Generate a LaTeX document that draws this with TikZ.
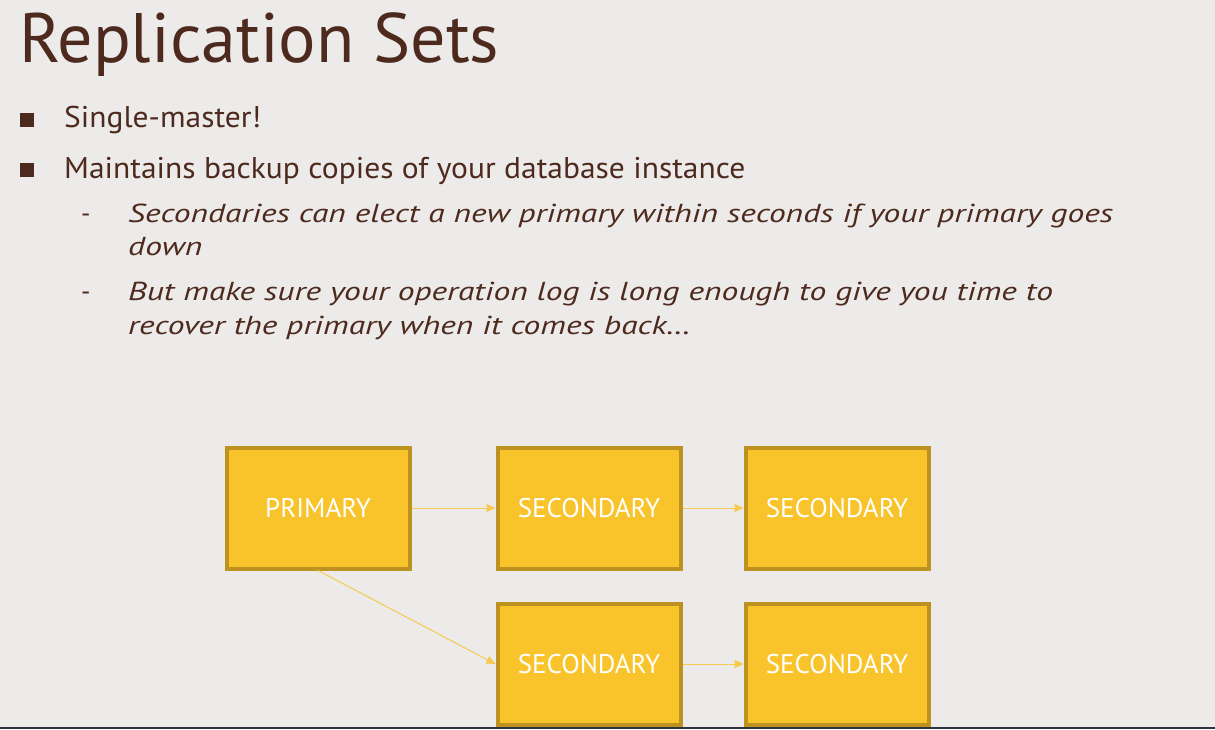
\documentclass[tikz,border=0pt]{standalone}
\usepackage{fontspec}
\setmainfont{PT Sans}
\newfontfamily\bodyfont[FakeStretch=1.05]{PT Sans}
\newfontfamily\subfont[FakeStretch=1.29]{PT Sans}
\usepackage{tikz}
\usetikzlibrary{positioning,arrows.meta}
\definecolor{slidebg}{HTML}{EDEBE9}
\definecolor{brown}{HTML}{4E2A1E}
\definecolor{gold}{HTML}{F9C42B}
\definecolor{golddk}{HTML}{BE9221}
\definecolor{goldln}{HTML}{F6CA4E}
\definecolor{barclr}{HTML}{2D3440}
\tikzset{
  sb/.style={rectangle, minimum width=183pt, minimum height=121pt, text centered, draw=golddk, line width=4pt, fill=gold, text=white, font=\fontsize{27}{27}\selectfont},
  ln/.style={goldln, line width=1pt, ->, >={Triangle[length=9pt,width=8pt]}},
  tl/.style={anchor=base west, text=brown, inner sep=0pt},
  bt/.style={tl, font=\bodyfont\fontsize{30}{30}\selectfont},
  st/.style={tl, font=\subfont\fontsize{26}{26}\selectfont\itshape},
  bl/.style={fill=brown, minimum size=14pt, inner sep=0pt},
  node distance=7mm
}
\begin{document}
\begin{tikzpicture}[x=1pt,y=-1pt]
	\fill[slidebg] (0,0) rectangle (1215,729);
	\useasboundingbox (0,0) rectangle (1215,729);
	% title and text
	\node[tl, font=\fontsize{70}{70}\selectfont] (title) at (19,62) {Replication Sets};
	\node[bl] (b1) at (27,120) {};
	\node[bt] (t1) at (64,127) {Single-master!};
	\node[bl] (b2) at (27,170) {};
	\node[bt] (t2) at (64,178) {Maintains backup copies of your database instance};
	\node[tl, font=\fontsize{26}{26}\selectfont] (d1) at (81,222) {-};
	\node[st] (t3) at (128,222) {Secondaries can elect a new primary within seconds if your primary goes};
	\node[st] (t4) at (128,255) {down};
	\node[tl, font=\fontsize{26}{26}\selectfont] (d2) at (81,300) {-};
	\node[st] (t5) at (128,300) {But make sure your operation log is long enough to give you time to};
	\node[st] (t6) at (128,334) {recover the primary when it comes back\dots};
	% boxes
	\node[sb] (prim) at (318,508) {PRIMARY};
	\node[sb, right=84pt of prim] (sec1) {SECONDARY};
	\node[sb, right=61pt of sec1] (sec2) {SECONDARY};
	\node[sb, below=31pt of sec1] (sec3) {SECONDARY};
	\node[sb, right=61pt of sec3] (sec4) {SECONDARY};
	%
	\draw[ln] (prim) -- (sec1);
	\draw[ln] (sec1) -- (sec2);
	\draw[ln] (prim.south) -- (sec3.west);
	\draw[ln] (sec3) -- (sec4);
	\fill[barclr] (0,727) rectangle (1215,729);
\end{tikzpicture}
\end{document}
